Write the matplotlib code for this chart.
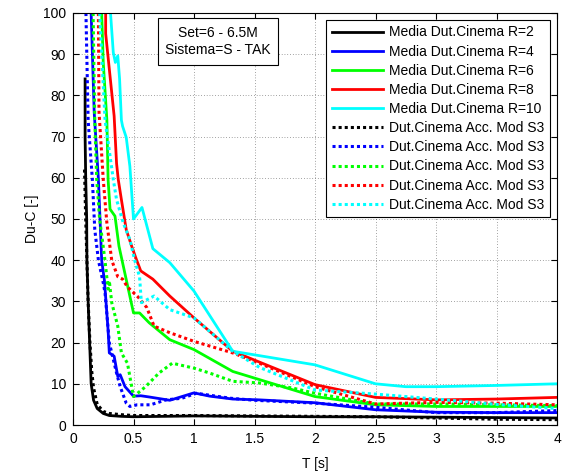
import matplotlib
matplotlib.use("Agg")
import matplotlib.pyplot as plt

plt.rcParams['font.family'] = ['Liberation Sans', 'DejaVu Sans']

# ---- data: solid "Media Dut.Cinema" curves ----
r2_x = [0.1, 0.1, 0.105, 0.113, 0.115, 0.125, 0.14, 0.15, 0.17, 0.2, 0.25, 0.3, 0.4, 0.5, 1.0, 1.5, 2.0, 2.5, 3.0, 3.5, 4.0]
r2_y = [84, 70, 60, 50, 40, 30, 18, 10, 6, 4, 2.8, 2.3, 2.1, 2.0, 2.2, 2.1, 2.0, 2.0, 1.9, 1.8, 1.7]

r4_x = [0.15, 0.175, 0.21, 0.237, 0.26, 0.28, 0.29, 0.30, 0.34, 0.37, 0.39, 0.43, 0.5, 0.56, 0.63, 0.8, 1.0, 1.13, 1.32, 1.54, 2.0, 2.5, 3.0, 3.5, 4.0]
r4_y = [100, 76, 59.6, 40, 35, 27, 23, 17.5, 16.7, 11.8, 12.2, 9.3, 7.0, 7.1, 6.8, 6.0, 7.8, 7.0, 6.3, 6.1, 5.4, 3.7, 3.1, 3.0, 3.0]

r6_x = [0.237, 0.25, 0.28, 0.29, 0.306, 0.347, 0.38, 0.5, 0.55, 0.63, 0.8, 1.0, 1.32, 2.0, 2.5, 3.0, 4.0]
r6_y = [100, 88, 74, 59.6, 52.4, 50.7, 43.4, 27.2, 27.2, 24.8, 20.7, 18.3, 13.0, 6.9, 4.9, 4.5, 4.5]

r8_x = [0.27, 0.27, 0.306, 0.34, 0.36, 0.374, 0.40, 0.44, 0.485, 0.526, 0.56, 0.66, 0.8, 1.0, 1.32, 2.0, 2.5, 3.0, 3.5, 4.0]
r8_y = [100, 95, 84.7, 75, 63.5, 59.6, 54.7, 47.4, 43.4, 40, 37.4, 35.4, 31.3, 26, 17.9, 9.8, 6.7, 6.1, 6.3, 6.7]

r10_x = [0.31, 0.333, 0.35, 0.37, 0.385, 0.40, 0.41, 0.44, 0.47, 0.5, 0.57, 0.66, 0.8, 1.0, 1.32, 2.0, 2.5, 2.75, 3.0, 3.5, 4.0]
r10_y = [100, 90.4, 88, 89.6, 84, 74, 72.5, 69.8, 62.8, 50, 52.8, 42.8, 39.4, 32.5, 17.9, 14.6, 10, 9.3, 9.3, 9.6, 10]

# ---- data: dotted "Dut.Cinema Acc. Mod S3" curves ----
a2_x = [0.095, 0.105, 0.115, 0.125, 0.14, 0.155, 0.17, 0.2, 0.25, 0.3, 0.4, 0.5, 1.0, 1.5, 2.0, 2.5, 3.0, 3.5, 4.0]
a2_y = [62, 50, 40, 30, 20, 13, 9, 5, 3.3, 2.8, 2.5, 2.3, 2.3, 2.2, 2.1, 2.0, 1.7, 1.4, 1.3]

a4_x = [0.107, 0.125, 0.16, 0.18, 0.21, 0.25, 0.265, 0.30, 0.36, 0.39, 0.44, 0.47, 0.53, 0.64, 0.77, 0.9, 1.02, 1.3, 1.5, 2.0, 2.5, 3.0, 3.5, 4.0]
a4_y = [100, 74, 59.6, 47.4, 40, 34.5, 32, 20, 12.6, 9.3, 5.3, 4.5, 4.9, 4.9, 6.1, 6.5, 7.7, 6.5, 6.0, 5.3, 4.3, 3.0, 3.0, 3.5]

a6_x = [0.166, 0.18, 0.196, 0.22, 0.264, 0.29, 0.30, 0.32, 0.37, 0.40, 0.45, 0.5, 0.6, 0.71, 0.82, 1.0, 1.13, 1.32, 1.54, 1.81, 2.0, 2.5, 3.0, 4.0]
a6_y = [100, 74, 59.6, 50, 40, 33, 35, 29.7, 24, 17.5, 15, 6.9, 9.3, 12.6, 15, 13.8, 12.6, 10.6, 10.2, 9.0, 7.7, 5.1, 5.1, 4.7]

a8_x = [0.21, 0.215, 0.25, 0.28, 0.32, 0.37, 0.41, 0.45, 0.54, 0.61, 0.67, 0.8, 1.0, 1.32, 1.54, 2.0, 2.5, 3.0, 3.5, 4.0]
a8_y = [100, 76, 59.6, 49, 40, 36, 35.4, 33.5, 31, 28.5, 24, 22.4, 20.3, 17.5, 15, 9.3, 5.1, 5.5, 5.3, 4.9]

a10_x = [0.22, 0.265, 0.333, 0.36, 0.416, 0.47, 0.51, 0.55, 0.565, 0.67, 0.8, 1.0, 1.32, 1.54, 2.0, 2.5, 3.0, 3.5, 4.0]
a10_y = [100, 74, 59.6, 54.7, 49, 45, 40, 36, 29.7, 31.3, 28, 26, 17.9, 14, 8.5, 7.5, 6.3, 5.0, 4.0]

solid_labels = ["Media Dut.Cinema R=2", "Media Dut.Cinema R=4", "Media Dut.Cinema R=6",
                "Media Dut.Cinema R=8", "Media Dut.Cinema R=10"]
dotted_labels = ["Dut.Cinema Acc. Mod S3"] * 5
colors = ["#000000", "#0000ff", "#00ff00", "#ff0000", "#00ffff"]

x_ticks = [0, 0.5, 1, 1.5, 2, 2.5, 3, 3.5, 4]
x_tick_labels = ["0", "0.5", "1", "1.5", "2", "2.5", "3", "3.5", "4"]
y_ticks = [0, 10, 20, 30, 40, 50, 60, 70, 80, 90, 100]

fig = plt.figure(figsize=(5.68, 4.73), dpi=100)
ax = fig.add_axes([73/568, 48/473, 484/568, 412/473])

solids = [(r2_x, r2_y), (r4_x, r4_y), (r6_x, r6_y), (r8_x, r8_y), (r10_x, r10_y)]
dotted = [(a2_x, a2_y), (a4_x, a4_y), (a6_x, a6_y), (a8_x, a8_y), (a10_x, a10_y)]

for (xs, ys), c, lab in zip(solids, colors, solid_labels):
    ax.plot(xs, ys, color=c, lw=2.0, ls='-', label=lab)
for (xs, ys), c, lab in zip(dotted, colors, dotted_labels):
    ax.plot(xs, ys, color=c, lw=2.2, ls=(0, (1, 1)), label=lab)

ax.set_xlim(0, 4)
ax.set_ylim(0, 100)
ax.set_xticks(x_ticks)
ax.set_xticklabels(x_tick_labels)
ax.set_yticks(y_ticks)
ax.tick_params(direction='in', top=True, right=True, length=4, labelsize=10, pad=5)
ax.grid(True, color='#000000', ls=(0, (1, 3)), lw=0.5, alpha=0.7)
for s in ax.spines.values():
    s.set_linewidth(0.8)

ax.set_xlabel("T [s]", fontsize=10, labelpad=8)
ax.set_ylabel("Du-C [-]", fontsize=10, labelpad=3)

leg = ax.legend(loc='upper right', fontsize=10, handlelength=3.7, handletextpad=0.45,
                labelspacing=0.37, borderpad=0.4, borderaxespad=0.5,
                fancybox=False, framealpha=1, edgecolor='black')
leg.get_frame().set_linewidth(0.8)

ax.text(0.2996, 0.931, "Set=6 - 6.5M\nSistema=S - TAK", transform=ax.transAxes,
        ha='center', va='center', fontsize=10, linespacing=1.35,
        bbox=dict(boxstyle='square,pad=0.55', fc='white', ec='black', lw=0.8))

fig.savefig("out.png", dpi=100)
